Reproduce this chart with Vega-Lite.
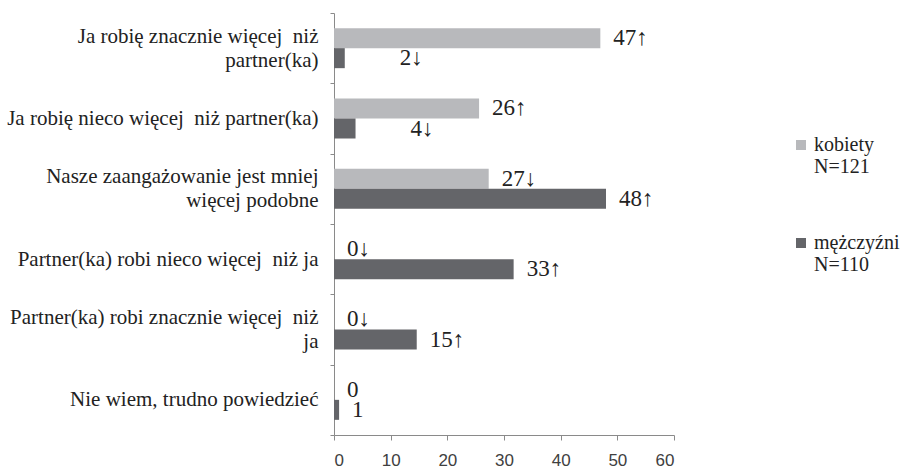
{
  "$schema": "https://vega.github.io/schema/vega-lite/v6.json",
  "width": 340,
  "height": 422,
  "autosize": {"type": "none"},
  "padding": {"left": 334, "top": 13, "right": 227, "bottom": 35},
  "background": "white",
  "config": {
    "view": {"stroke": null},
    "font": "Liberation Serif",
    "axisY": {"labelFont": "Liberation Serif"}
  },
  "data": {
    "values": [
      {"kat": "Ja robię znacznie więcej  niż partner(ka)", "grupa": "kobiety", "wartosc": 47, "etykieta": "47↑"},
      {"kat": "Ja robię znacznie więcej  niż partner(ka)", "grupa": "mężczyźni", "wartosc": 1.9, "etykieta": "2↓"},
      {"kat": "Ja robię nieco więcej  niż partner(ka)", "grupa": "kobiety", "wartosc": 25.6, "etykieta": "26↑"},
      {"kat": "Ja robię nieco więcej  niż partner(ka)", "grupa": "mężczyźni", "wartosc": 3.8, "etykieta": "4↓"},
      {"kat": "Nasze zaangażowanie jest mniej więcej podobne", "grupa": "kobiety", "wartosc": 27.3, "etykieta": "27↓"},
      {"kat": "Nasze zaangażowanie jest mniej więcej podobne", "grupa": "mężczyźni", "wartosc": 48, "etykieta": "48↑"},
      {"kat": "Partner(ka) robi nieco więcej  niż ja", "grupa": "kobiety", "wartosc": 0, "etykieta": "0↓"},
      {"kat": "Partner(ka) robi nieco więcej  niż ja", "grupa": "mężczyźni", "wartosc": 31.7, "etykieta": "33↑"},
      {"kat": "Partner(ka) robi znacznie więcej  niż ja", "grupa": "kobiety", "wartosc": 0, "etykieta": "0↓"},
      {"kat": "Partner(ka) robi znacznie więcej  niż ja", "grupa": "mężczyźni", "wartosc": 14.6, "etykieta": "15↑"},
      {"kat": "Nie wiem, trudno powiedzieć", "grupa": "kobiety", "wartosc": 0, "etykieta": "0"},
      {"kat": "Nie wiem, trudno powiedzieć", "grupa": "mężczyźni", "wartosc": 0.9, "etykieta": "1"}
    ]
  },
  "encoding": {
    "y": {
      "field": "kat",
      "type": "nominal",
      "sort": [
        "Ja robię znacznie więcej  niż partner(ka)",
        "Ja robię nieco więcej  niż partner(ka)",
        "Nasze zaangażowanie jest mniej więcej podobne",
        "Partner(ka) robi nieco więcej  niż ja",
        "Partner(ka) robi znacznie więcej  niż ja",
        "Nie wiem, trudno powiedzieć"
      ],
      "scale": {"paddingInner": 0, "paddingOuter": 0},
      "axis": {
        "title": null,
        "tickBand": "extent",
        "tickSize": 4,
        "domainColor": "#8a8a8a",
        "tickColor": "#8a8a8a",
        "labelPadding": 12,
        "labelFont": "Liberation Serif",
        "labelFontSize": 21,
        "labelColor": "#222222",
        "labelLineHeight": 24,
        "labelLimit": 400,
        "labelBaseline": "middle",
        "labelOffset": {
          "condition": {"test": "indexof(['Ja robię znacznie więcej  niż partner(ka)', 'Nasze zaangażowanie jest mniej więcej podobne', 'Partner(ka) robi znacznie więcej  niż ja'], datum.value) >= 0", "value": -12},
          "value": 0
        },
        "labelExpr": "!isString(datum.value) ? '' : datum.value == 'Ja robię znacznie więcej  niż partner(ka)' ? ['Ja robię znacznie więcej\u00a0 niż', 'partner(ka)'] : datum.value == 'Nasze zaangażowanie jest mniej więcej podobne' ? ['Nasze zaangażowanie jest mniej', 'więcej podobne'] : datum.value == 'Partner(ka) robi znacznie więcej  niż ja' ? ['Partner(ka) robi znacznie więcej\u00a0 niż', 'ja'] : replace(datum.value, '  ', '\u00a0 ')"
      }
    },
    "yOffset": {
      "field": "grupa",
      "type": "nominal",
      "sort": ["kobiety", "mężczyźni"],
      "scale": {"paddingInner": 0, "paddingOuter": 0.758}
    },
    "x": {
      "field": "wartosc",
      "type": "quantitative",
      "scale": {"domain": [0, 60], "nice": false},
      "axis": {
        "title": null,
        "values": [0, 10, 20, 30, 40, 50, 60],
        "grid": false,
        "tickSize": 5,
        "domainColor": "#8a8a8a",
        "tickColor": "#8a8a8a",
        "labelPadding": 12,
        "labelFont": "Liberation Sans",
        "labelFontSize": 17,
        "labelColor": "#404040"
      }
    }
  },
  "layer": [
    {
      "mark": {"type": "bar"},
      "encoding": {
        "color": {
          "field": "grupa",
          "type": "nominal",
          "scale": {"domain": ["kobiety", "mężczyźni"], "range": ["#b8b9bc", "#646569"]},
          "legend": {
            "title": null,
            "orient": "none",
            "legendX": 457,
            "legendY": 122,
            "padding": 0,
            "symbolType": "square",
            "symbolSize": 100,
            "symbolStrokeWidth": 0,
            "labelFont": "Liberation Serif",
            "labelFontSize": 20,
            "labelColor": "#222222",
            "labelOffset": 3,
            "labelLineHeight": 24,
            "labelBaseline": "middle",
            "labelLimit": 200,
            "rowPadding": 56,
            "labelExpr": "datum.label == 'kobiety' ? ['kobiety', 'N=121'] : ['mężczyźni', '\u00a0\u00a0N=110']"
          }
        }
      }
    },
    {
      "transform": [{"filter": "!(datum.grupa == 'mężczyźni' && datum.wartosc > 1 && datum.wartosc < 5)"}],
      "mark": {"type": "text", "align": "left", "baseline": "middle", "dx": 13, "font": "Liberation Serif", "fontSize": 23, "color": "#222222"},
      "encoding": {"text": {"field": "etykieta"}}
    },
    {
      "transform": [{"filter": "datum.grupa == 'mężczyźni' && datum.wartosc > 1 && datum.wartosc < 5"}],
      "mark": {"type": "text", "align": "left", "baseline": "middle", "dx": 55, "font": "Liberation Serif", "fontSize": 23, "color": "#222222"},
      "encoding": {"text": {"field": "etykieta"}}
    }
  ]
}
